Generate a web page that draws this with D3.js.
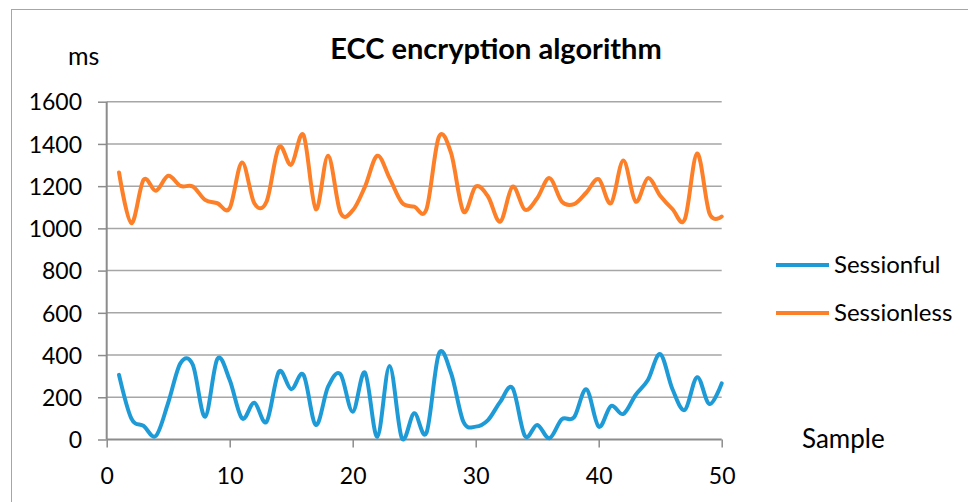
<!DOCTYPE html>
<html>
<head>
<meta charset="utf-8">
<title>ECC encryption algorithm</title>
<script src="https://d3js.org/d3.v7.min.js"></script>
<style>
  body { margin: 0; background: #fff; }
  text { font-family: Lato, "Open Sans", sans-serif; fill: #000; }
</style>
</head>
<body>
<svg width="968" height="502"></svg>
<script>
// values
var samples = d3.range(1, 51);
var sessionful = [306,100,64,17,174,362,354,108,382,282,
                  100,174,84,321,238,306,69,250,310,132,
                  317,13,348,6,124,32,405,314,84,61,
                  92,179,243,17,69,6,96,105,238,61,
                  159,121,211,282,404,238,140,295,168,266];
var sessionless = [1265,1025,1230,1178,1249,1201,1198,1135,1119,1096,
                   1312,1119,1127,1385,1301,1442,1091,1344,1075,1085,
                   1198,1344,1238,1122,1103,1091,1432,1356,1080,1198,
                   1151,1032,1198,1088,1143,1238,1127,1115,1170,1233,
                   1119,1321,1127,1238,1154,1091,1043,1355,1072,1056];
var yTicks = [0, 200, 400, 600, 800, 1000, 1200, 1400, 1600];
var xTicks = [0, 10, 20, 30, 40, 50];
var seriesNames = ["Sessionful", "Sessionless"];
var colors = ["#1e9bd7", "#fd7f28"];

var svg = d3.select("svg");

// outer frame
svg.append("rect")
    .attr("x", 11.5).attr("y", 9.5)
    .attr("width", 1000).attr("height", 600)
    .attr("fill", "none")
    .attr("stroke", "#a6a6a6");

var x = d3.scaleLinear().domain([0, 50]).range([106.7, 721.7]);
var y = d3.scaleLinear().domain([0, 1600]).range([439.5, 101.7]);

// gridlines
svg.append("g")
  .selectAll("line")
  .data(yTicks.filter(function(d) { return d > 0; }))
  .enter().append("line")
    .attr("x1", x(0)).attr("x2", x(50))
    .attr("y1", function(d) { return y(d); })
    .attr("y2", function(d) { return y(d); })
    .attr("stroke", "#a6a6a6")
    .attr("stroke-width", 1.5);

// y axis
var gy = svg.append("g")
    .attr("transform", "translate(" + x(0) + ",0)")
    .call(d3.axisLeft(y).tickValues(yTicks).tickSize(8.7).tickPadding(16)
      .tickFormat(d3.format("d")));
gy.selectAll(".tick text").attr("font-size", 23).attr("dy", "0.36em")
    .attr("font-family", "Lato, sans-serif").attr("fill", "#000");
gy.selectAll(".tick line").attr("stroke", "#8c8c8c").attr("stroke-width", 1.5);
gy.select(".domain").attr("stroke", "#8c8c8c").attr("stroke-width", 2)
    .attr("d", "M0," + y(0) + "V" + y(1600));

// x axis
var gx = svg.append("g")
    .attr("transform", "translate(0," + y(0) + ")")
    .call(d3.axisBottom(x).tickValues(xTicks).tickSize(8).tickPadding(20));
gx.selectAll(".tick text").attr("font-size", 23)
    .attr("font-family", "Lato, sans-serif").attr("fill", "#000");
gx.selectAll(".tick line").attr("stroke", "#8c8c8c").attr("stroke-width", 1.5);
gx.select(".domain").attr("stroke", "#8c8c8c").attr("stroke-width", 2)
    .attr("d", "M" + x(0) + ",0H" + x(50));

// lines
var line = d3.line()
    .x(function(d, i) { return x(samples[i]); })
    .y(function(d) { return y(d); })
    .curve(d3.curveCardinal.tension(0));

[sessionful, sessionless].forEach(function(s, i) {
  svg.append("path")
      .datum(s)
      .attr("fill", "none")
      .attr("stroke", colors[i])
      .attr("stroke-width", 4)
      .attr("stroke-linejoin", "round")
      .attr("stroke-linecap", "round")
      .attr("d", line);
});

// title and labels
svg.append("text")
    .attr("x", 496).attr("y", 59)
    .attr("text-anchor", "middle")
    .attr("font-size", 29).attr("font-weight", "bold")
    .text("ECC encryption algorithm");

svg.append("text")
    .attr("x", 68).attr("y", 65)
    .attr("font-size", 25)
    .text("ms");

svg.append("text")
    .attr("x", 802).attr("y", 448)
    .attr("font-size", 26)
    .text("Sample");

// legend
var legend = svg.append("g");
seriesNames.forEach(function(name, i) {
  var ly = 265 + i * 48;
  legend.append("line")
      .attr("x1", 776).attr("x2", 829)
      .attr("y1", ly).attr("y2", ly)
      .attr("stroke", colors[i])
      .attr("stroke-width", 4);
  legend.append("text")
      .attr("x", 834).attr("y", ly + 8)
      .attr("font-size", 24)
      .text(name);
});
</script>
</body>
</html>
